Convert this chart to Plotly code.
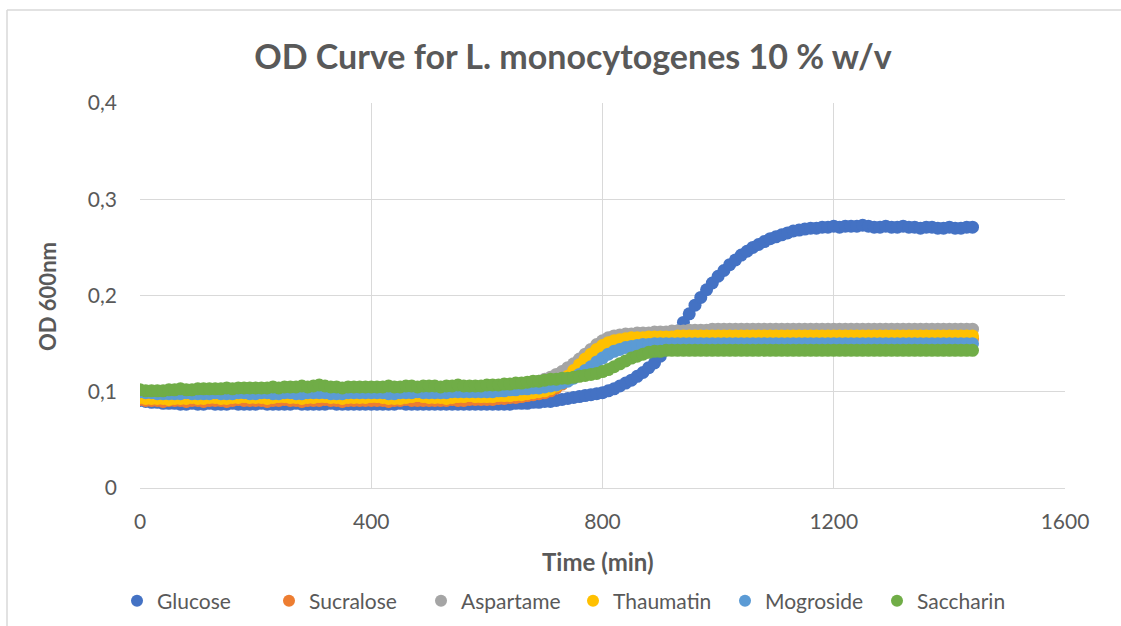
import plotly.graph_objects as go

# Time points (min)
time_min = [
    0, 10, 20, 30, 40, 50, 60, 70, 80, 90,
    100, 110, 120, 130, 140, 150, 160, 170, 180, 190,
    200, 210, 220, 230, 240, 250, 260, 270, 280, 290,
    300, 310, 320, 330, 340, 350, 360, 370, 380, 390,
    400, 410, 420, 430, 440, 450, 460, 470, 480, 490,
    500, 510, 520, 530, 540, 550, 560, 570, 580, 590,
    600, 610, 620, 630, 640, 650, 660, 670, 680, 690,
    700, 710, 720, 730, 740, 750, 760, 770, 780, 790,
    800, 810, 820, 830, 840, 850, 860, 870, 880, 890,
    900, 910, 920, 930, 940, 950, 960, 970, 980, 990,
    1000, 1010, 1020, 1030, 1040, 1050, 1060, 1070, 1080, 1090,
    1100, 1110, 1120, 1130, 1140, 1150, 1160, 1170, 1180, 1190,
    1200, 1210, 1220, 1230, 1240, 1250, 1260, 1270, 1280, 1290,
    1300, 1310, 1320, 1330, 1340, 1350, 1360, 1370, 1380, 1390,
    1400, 1410, 1420, 1430, 1440,
]

glucose = [
    .091, .090, .089, .089, .088, .088, .088, .087, .087, .088,
    .087, .087, .088, .087, .087, .087, .088, .087, .087, .087,
    .087, .088, .087, .087, .087, .087, .087, .088, .087, .087,
    .087, .087, .087, .088, .087, .087, .087, .087, .087, .087,
    .087, .087, .087, .087, .087, .088, .087, .087, .087, .087,
    .087, .087, .087, .087, .087, .087, .087, .087, .087, .087,
    .087, .087, .087, .087, .087, .088, .088, .088, .089, .089,
    .090, .090, .091, .092, .093, .094, .095, .096, .097, .098,
    .099, .101, .103, .106, .109, .112, .116, .120, .125, .130,
    .137, .145, .154, .163, .172, .181, .190, .198, .206, .213,
    .220, .226, .232, .237, .242, .246, .250, .253, .256, .259,
    .261, .263, .265, .267, .268, .269, .270, .270, .271, .271,
    .272, .271, .272, .272, .272, .273, .272, .271, .271, .272,
    .271, .271, .272, .271, .271, .270, .271, .271, .270, .270,
    .271, .270, .270, .271, .271,
]

sucralose = [
    .092, .091, .091, .091, .090, .091, .091, .091, .090, .091,
    .091, .090, .091, .091, .091, .090, .091, .092, .091, .091,
    .091, .091, .090, .091, .091, .092, .091, .091, .090, .091,
    .091, .091, .092, .091, .091, .090, .091, .091, .091, .091,
    .091, .091, .091, .090, .091, .091, .092, .091, .091, .091,
    .091, .091, .091, .091, .092, .091, .091, .092, .092, .092,
    .092, .092, .093, .093, .094, .094, .095, .096, .097, .098,
    .099, .101, .104, .108, .113, .118, .124, .130, .136, .141,
    .145, .149, .151, .152, .153, .154, .154, .155, .155, .155,
    .155, .155, .155, .155, .155, .155, .155, .155, .155, .155,
    .155, .155, .155, .155, .155, .155, .155, .155, .155, .155,
    .155, .155, .155, .155, .155, .155, .155, .155, .155, .155,
    .155, .155, .155, .155, .155, .155, .155, .155, .155, .155,
    .155, .155, .155, .155, .155, .155, .155, .155, .155, .155,
    .155, .155, .155, .155, .155,
]

aspartame = [
    .099, .099, .099, .099, .099, .100, .100, .100, .100, .100,
    .100, .100, .100, .101, .101, .101, .101, .101, .101, .101,
    .101, .101, .102, .102, .102, .102, .102, .102, .102, .102,
    .102, .102, .102, .102, .102, .102, .102, .103, .103, .103,
    .103, .103, .103, .103, .103, .103, .103, .103, .103, .103,
    .103, .103, .103, .103, .104, .104, .104, .104, .104, .104,
    .104, .104, .105, .105, .106, .106, .107, .108, .109, .111,
    .113, .115, .118, .121, .125, .129, .134, .139, .144, .149,
    .153, .156, .158, .159, .160, .160, .161, .161, .161, .162,
    .162, .162, .163, .163, .163, .164, .164, .164, .164, .165,
    .165, .165, .165, .165, .165, .165, .165, .165, .165, .165,
    .165, .165, .165, .165, .165, .165, .165, .165, .165, .165,
    .165, .165, .165, .165, .165, .165, .165, .165, .165, .165,
    .165, .165, .165, .165, .165, .165, .165, .165, .165, .165,
    .165, .165, .165, .165, .165,
]

thaumatin = [
    .094, .093, .093, .093, .093, .092, .093, .093, .093, .094,
    .093, .093, .094, .094, .093, .093, .094, .094, .095, .094,
    .094, .094, .093, .094, .095, .095, .094, .094, .093, .094,
    .094, .095, .095, .094, .094, .093, .094, .094, .094, .094,
    .095, .095, .094, .093, .093, .093, .094, .095, .096, .095,
    .094, .094, .094, .093, .094, .095, .095, .096, .095, .095,
    .095, .095, .096, .096, .096, .097, .097, .098, .099, .100,
    .101, .103, .106, .110, .116, .122, .128, .134, .139, .144,
    .148, .151, .153, .154, .155, .156, .156, .156, .157, .157,
    .157, .157, .157, .158, .158, .158, .158, .158, .158, .158,
    .158, .158, .158, .158, .158, .158, .158, .158, .158, .158,
    .158, .158, .158, .158, .158, .158, .158, .158, .158, .158,
    .158, .158, .158, .158, .158, .158, .158, .158, .158, .158,
    .158, .158, .158, .158, .158, .158, .158, .158, .158, .158,
    .158, .158, .158, .158, .158,
]

mogroside = [
    .100, .099, .099, .098, .098, .098, .098, .098, .099, .098,
    .098, .098, .098, .099, .098, .098, .098, .099, .099, .098,
    .098, .099, .099, .098, .098, .099, .099, .098, .098, .099,
    .099, .099, .099, .098, .098, .098, .099, .099, .099, .099,
    .099, .099, .099, .098, .098, .099, .099, .099, .100, .099,
    .099, .099, .099, .099, .100, .100, .100, .100, .100, .100,
    .100, .100, .101, .101, .102, .102, .103, .103, .104, .104,
    .105, .106, .107, .109, .111, .114, .118, .122, .126, .131,
    .135, .139, .142, .144, .146, .147, .148, .149, .149, .150,
    .150, .150, .150, .150, .150, .150, .150, .150, .150, .150,
    .150, .150, .150, .150, .150, .150, .150, .150, .150, .150,
    .150, .150, .150, .150, .150, .150, .150, .150, .150, .150,
    .150, .150, .150, .150, .150, .150, .150, .150, .150, .150,
    .150, .150, .150, .150, .150, .150, .150, .150, .150, .150,
    .150, .150, .150, .150, .150,
]

saccharin = [
    .102, .101, .101, .101, .101, .102, .102, .103, .102, .102,
    .103, .103, .103, .103, .103, .104, .103, .104, .104, .104,
    .104, .104, .104, .105, .104, .105, .105, .105, .106, .105,
    .106, .107, .106, .105, .105, .104, .105, .105, .105, .105,
    .105, .105, .105, .106, .105, .105, .106, .106, .105, .106,
    .106, .106, .105, .106, .106, .107, .106, .106, .106, .106,
    .107, .107, .107, .108, .108, .109, .109, .110, .111, .111,
    .112, .113, .113, .114, .114, .115, .116, .117, .118, .119,
    .121, .123, .126, .129, .132, .135, .137, .139, .141, .142,
    .142, .143, .143, .143, .143, .143, .143, .143, .143, .143,
    .143, .143, .143, .143, .143, .143, .143, .143, .143, .143,
    .143, .143, .143, .143, .143, .143, .143, .143, .143, .143,
    .143, .143, .143, .143, .143, .143, .143, .143, .143, .143,
    .143, .143, .143, .143, .143, .143, .143, .143, .143, .143,
    .143, .143, .143, .143, .143,
]

series_names = ["Glucose", "Sucralose", "Aspartame", "Thaumatin", "Mogroside", "Saccharin"]
series_values = [glucose, sucralose, aspartame, thaumatin, mogroside, saccharin]
series_colors = ["#4472C4", "#ED7D31", "#A5A5A5", "#FFC000", "#5B9BD5", "#70AD47"]

FONT = "Lato"
TXT = "#595959"
GRID = "#D9D9D9"

fig = go.Figure()
for name, vals, col in zip(series_names, series_values, series_colors):
    fig.add_trace(go.Scatter(
        x=time_min, y=vals, mode="markers", name=name,
        marker=dict(size=13, color=col, line=dict(width=0)),
    ))

W, H = 1121, 626
L, R, T, B = 140, 56, 103, 138
pw, ph = W - L - R, H - T - B

def px_x(p):
    return (p - L) / pw

def px_y(p):
    return (H - B - p) / ph

fig.update_layout(
    width=W, height=H,
    margin=dict(l=L, r=R, t=T, b=B, autoexpand=False),
    paper_bgcolor="white", plot_bgcolor="white",
    separators=",.",
    font=dict(family=FONT, color=TXT, size=20),
    title=dict(text="<b>OD Curve for L. monocytogenes 10 % w/v</b>",
               x=573 / W, xanchor="center", y=1 - 57 / H, yanchor="middle",
               font=dict(family=FONT, size=34, color=TXT)),
    xaxis=dict(range=[0, 1600], dtick=400, tick0=0, showgrid=True, gridcolor=GRID,
               gridwidth=1, zeroline=False, showline=True, linecolor=GRID,
               ticks="", ticklabelstandoff=15, tickfont=dict(size=21, color=TXT)),
    yaxis=dict(range=[0, 0.4], dtick=0.1, tick0=0, showgrid=True, gridcolor=GRID,
               gridwidth=1, zeroline=False, showline=False,
               ticks="", ticklabelstandoff=22, tickfont=dict(size=21, color=TXT)),
    showlegend=True,
    legend=dict(orientation="h", x=px_x(573), xanchor="center", y=px_y(601),
                yanchor="middle", font=dict(size=21, color=TXT),
                bgcolor="rgba(0,0,0,0)", itemsizing="constant",
                entrywidth=107, entrywidthmode="pixels", itemwidth=30),
    annotations=[
        dict(text="<b>Time (min)</b>", x=px_x(598), y=px_y(561), xref="paper", yref="paper",
             showarrow=False, xanchor="center", yanchor="middle",
             font=dict(family=FONT, size=24, color=TXT)),
        dict(text="<b>OD 600nm</b>", x=px_x(47), y=px_y(297), xref="paper", yref="paper",
             showarrow=False, xanchor="center", yanchor="middle", textangle=-90,
             font=dict(family=FONT, size=22, color=TXT)),
    ],
    shapes=[
        dict(type="line", xref="paper", yref="paper", x0=px_x(7), x1=px_x(1125),
             y0=px_y(10), y1=px_y(10), line=dict(color=GRID, width=1.5)),
        dict(type="line", xref="paper", yref="paper", x0=px_x(7), x1=px_x(7),
             y0=px_y(10), y1=px_y(630), line=dict(color=GRID, width=1.5)),
    ],
)

fig.write_html("out.html")
